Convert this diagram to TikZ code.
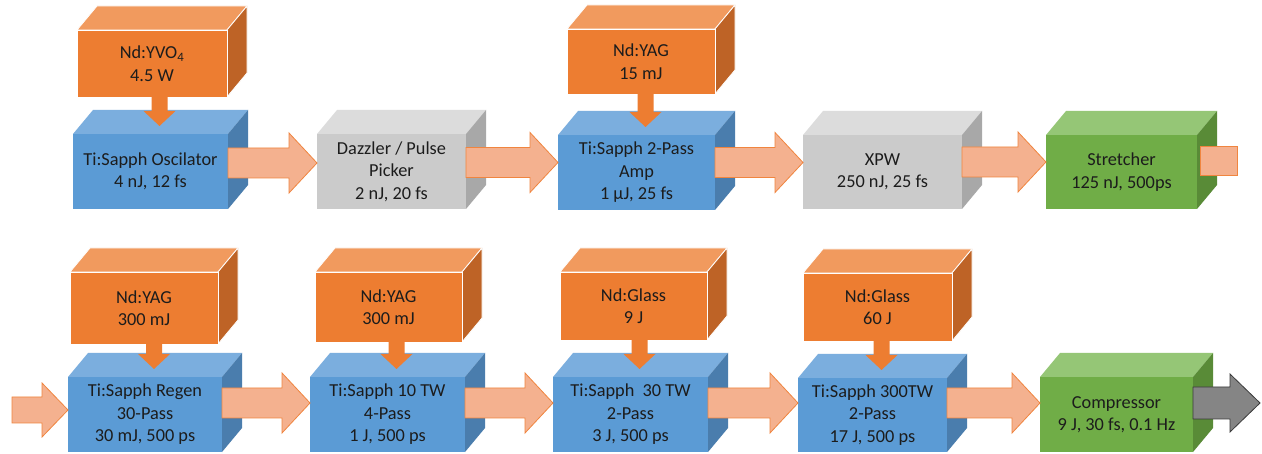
\documentclass[tikz,border=0pt]{standalone}
\usepackage{fontspec}
\setmainfont{Carlito}
\usetikzlibrary{calc}
\definecolor{txt}{HTML}{1C1C1C}
\definecolor{orgfront}{HTML}{ED7D31}
\definecolor{orgtop}{HTML}{F19A5E}
\definecolor{orgside}{HTML}{BE6326}
\definecolor{blufront}{HTML}{5B9BD5}
\definecolor{blutop}{HTML}{7BAEDE}
\definecolor{bluside}{HTML}{4A7DAD}
\definecolor{grafront}{HTML}{CBCBCB}
\definecolor{gratop}{HTML}{DCDCDC}
\definecolor{graside}{HTML}{A8A8A8}
\definecolor{grnfront}{HTML}{70AD47}
\definecolor{grntop}{HTML}{95C676}
\definecolor{grnside}{HTML}{598B37}
\definecolor{arrfill}{HTML}{F4B18F}
\definecolor{arrdraw}{HTML}{F0853F}
\definecolor{gryfill}{HTML}{858585}
\definecolor{grydraw}{HTML}{3A3A3A}
\tikzset{
  front/.style={inner sep=0pt, outer sep=0pt, align=center, text=txt,
    font=\fontsize{18.3}{22.5}\selectfont},
  pumpedge/.style={draw=white, line width=0.8pt},
  mainedge/.style={draw=none},
  barrow/.style={fill=arrfill, draw=arrdraw, line width=0.8pt},
  garrow/.style={fill=gryfill, draw=grydraw, line width=0.8pt},
  parrowstyle/.style={fill=orgfront, draw=none},
  stubbox/.style={rectangle, fill=arrfill, draw=arrdraw, line width=0.8pt,
    inner sep=0pt, outer sep=0pt, minimum width=37pt, minimum height=29pt},
}
% cube: name, x1, y1, x2, y2 (front face), colour prefix, text, edge style
\newcommand\cube[8]{%
  \filldraw[fill=#6top,#8] (#2,#3) -- ({#2+20},{#3-24}) -- ({#4+20},{#3-24}) -- (#4,#3) -- cycle;
  \filldraw[fill=#6side,#8] (#4,#3) -- ({#4+20},{#3-24}) -- ({#4+20},{#5-24}) -- (#4,#5) -- cycle;
  \node[front, fill=#6front, #8, minimum width={#4-#2}, minimum height={#5-#3}]
    (#1) at ({(#2+#4)/2},{(#3+#5)/2}) {#7};
}
% horizontal block arrow: style, from, to, y offset, shaft half, head half, head length
\newcommand\harrow[7]{%
  \filldraw[#1] let \p1=#2, \p2=#3 in
    (\x1,{\y1+#4+#5}) -- ({\x2-#7},{\y1+#4+#5}) -- ({\x2-#7},{\y1+#4+#6})
    -- (\x2,{\y1+#4}) -- ({\x2-#7},{\y1+#4-#6}) -- ({\x2-#7},{\y1+#4-#5})
    -- (\x1,{\y1+#4-#5}) -- cycle;
}
% pump arrow: from pump node down to box node
\newcommand\parrow[2]{%
  \fill[parrowstyle] let \p1=(#1.south), \p2=(#2.north) in
    ({\x2+1pt},\y1) -- ({\x2+1pt},{\y2+23pt}) -- ({\x2-7pt},{\y2+23pt})
    -- ({\x2+9pt},{\y2+8pt}) -- ({\x2+25pt},{\y2+23pt}) -- ({\x2+17pt},{\y2+23pt})
    -- ({\x2+17pt},\y1) -- cycle;
}
\begin{document}
\begin{tikzpicture}[x=1pt,y=-1pt]
\fill[white] (0,0) rectangle (1262,454);
\useasboundingbox (0,0) rectangle (1262,454);
% top row
\cube{p1}{77}{30}{227}{97}{org}{Nd:YVO\textsubscript{4}\\4.5 W}{pumpedge}
\cube{osc}{73}{134}{228}{209}{blu}{Ti:Sapph Oscilator\\4 nJ, 12 fs}{mainedge}
\cube{dz}{317}{134}{466}{209}{gra}{Dazzler / Pulse\\Picker\\2 nJ, 20 fs}{mainedge}
\cube{p2}{567}{29}{715}{94}{org}{Nd:YAG\\15 mJ}{pumpedge}
\cube{amp}{558}{135}{715}{210}{blu}{Ti:Sapph 2-Pass\\Amp\\1 µJ, 25 fs}{mainedge}
\cube{xpw}{803}{135}{962}{209}{gra}{XPW\\250 nJ, 25 fs}{mainedge}
\cube{str}{1046}{135}{1197}{209}{grn}{Stretcher\\125 nJ, 500ps}{mainedge}
% bottom row
\cube{p3}{70}{272}{218}{344}{org}{Nd:YAG\\300 mJ}{pumpedge}
\cube{regen}{68}{377}{222}{452}{blu}{Ti:Sapph Regen\\30-Pass\\30 mJ, 500 ps}{mainedge}
\cube{p4}{315}{272}{462}{342}{org}{Nd:YAG\\300 mJ}{pumpedge}
\cube{tw10}{310}{377}{465}{452}{blu}{Ti:Sapph 10 TW\\4-Pass\\1 J, 500 ps}{mainedge}
\cube{p5}{560}{272}{707}{340}{org}{Nd:Glass\\9 J}{pumpedge}
\cube{tw30}{553}{377}{708}{452}{blu}{Ti:Sapph\ \ 30 TW\\2-Pass\\3 J, 500 ps}{mainedge}
\cube{p6}{803}{273}{952}{341}{org}{Nd:Glass\\60 J}{pumpedge}
\cube{tw300}{798}{378}{947}{452}{blu}{Ti:Sapph 300TW\\2-Pass\\17 J, 500 ps}{mainedge}
\cube{comp}{1040}{377}{1193}{452}{grn}{Compressor\\9 J, 30 fs, 0.1 Hz}{mainedge}
% pump arrows
\parrow{p1}{osc}
\parrow{p2}{amp}
\parrow{p3}{regen}
\parrow{p4}{tw10}
\parrow{p5}{tw30}
\parrow{p6}{tw300}
% beam arrows, top row
\harrow{barrow}{(osc.east)}{(dz.west)}{8.5pt}{15pt}{30pt}{28pt}
\harrow{barrow}{(dz.east)}{(amp.west)}{9pt}{15pt}{30pt}{28pt}
\harrow{barrow}{(amp.east)}{(xpw.west)}{10pt}{15pt}{30pt}{28pt}
\harrow{barrow}{(xpw.east)}{(str.west)}{10pt}{15pt}{30pt}{28pt}
\node[stubbox] (stub) at (1218.5,161) {};
% beam arrows, bottom row
\coordinate (in) at (12,410);
\coordinate (out) at (1260,403);
\harrow{barrow}{(in)}{(regen.west)}{0pt}{13pt}{27pt}{26pt}
\harrow{barrow}{(regen.east)}{(tw10.west)}{11.5pt}{15pt}{30pt}{28pt}
\harrow{barrow}{(tw10.east)}{(tw30.west)}{11.5pt}{15pt}{30pt}{28pt}
\harrow{barrow}{(tw30.east)}{(tw300.west)}{11.5pt}{15pt}{30pt}{28pt}
\harrow{barrow}{(tw300.east)}{(comp.west)}{12pt}{15pt}{30pt}{28pt}
\harrow{garrow}{(comp.east)}{(out)}{11.5pt}{16pt}{29pt}{30pt}
\end{tikzpicture}
\end{document}
